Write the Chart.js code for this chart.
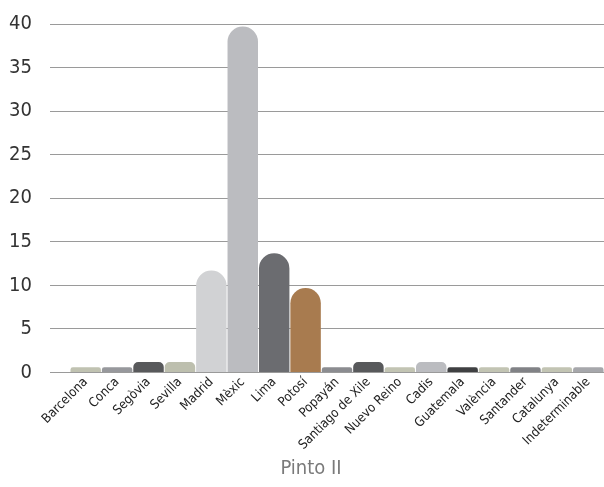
<!DOCTYPE html>
<html>
<head>
<meta charset="utf-8">
<script src="https://cdn.jsdelivr.net/npm/chart.js@4/dist/chart.umd.min.js"></script>
<style>
html,body{margin:0;padding:0;background:#fff;}
#wrap{width:604px;height:487px;position:relative;}
</style>
</head>
<body>
<div id="wrap"><canvas id="c" width="604" height="487"></canvas></div>
<script>
const categories = ["Barcelona","Conca","Segòvia","Sevilla","Madrid","Mèxic","Lima","Potosí","Popayán","Santiago de Xile","Nuevo Reino","Cadis","Guatemala","València","Santander","Catalunya","Indeterminable"];
const values = [0.6,0.6,1.2,1.2,11.7,39.7,13.7,9.7,0.6,1.2,0.6,1.2,0.6,0.6,0.6,0.6,0.6];
const barColors = ["#c0c2b1","#97989c","#58595b","#bdbfae","#d1d2d4","#bbbcc0","#6b6c70","#a87b4f","#8b8c90","#58595b","#c2c4b3","#bbbcc0","#3f4042","#c2c4b3","#818286","#c2c4b3","#a6a7ab"];
const yTicks = [0,5,10,15,20,25,30,35,40];
const chartTitle = "Pinto II";

const FONT = "'Liberation Sans Narrow','DejaVu Sans Condensed','Roboto Condensed',sans-serif";

const bottomTitle = {
  id: 'bottomTitle',
  afterDraw(chart) {
    const ctx = chart.ctx;
    ctx.save();
    ctx.font = "20px " + FONT;
    ctx.fillStyle = '#7a7a7a';
    ctx.textAlign = 'center';
    ctx.textBaseline = 'middle';
    ctx.fillText(chartTitle, 311, 469);
    ctx.restore();
  }
};

new Chart(document.getElementById('c'), {
  type: 'bar',
  data: {
    labels: categories,
    datasets: [{
      data: values,
      backgroundColor: barColors,
      borderWidth: 0,
      borderRadius: 100,
      borderSkipped: 'start',
      barPercentage: 1.0,
      categoryPercentage: 0.97
    }]
  },
  options: {
    responsive: false,
    animation: false,
    devicePixelRatio: 1,
    layout: { padding: { top: 0, right: 0, left: 0, bottom: 32 } },
    plugins: {
      legend: { display: false },
      tooltip: { enabled: false },
      title: { display: false }
    },
    scales: {
      x: {
        grid: { display: false, drawTicks: false },
        border: { display: false },
        ticks: {
          minRotation: 45, maxRotation: 45,
          autoSkip: false,
          color: '#222',
          padding: 2,
          font: { family: FONT, size: 13 }
        }
      },
      y: {
        min: 0, max: 40,
        afterBuildTicks: (axis) => { axis.ticks = yTicks.map(v => ({ value: v })); },
        afterFit: (axis) => { axis.width = 70; },
        grid: { color: '#9a9a9a', lineWidth: 1, tickLength: 20, drawTicks: true, tickColor: '#9a9a9a' },
        border: { display: false },
        ticks: {
          color: '#333',
          padding: 18,
          font: { family: FONT, size: 20, lineHeight: 0.6 }
        }
      }
    }
  },
  plugins: [bottomTitle]
});
</script>
</body>
</html>
